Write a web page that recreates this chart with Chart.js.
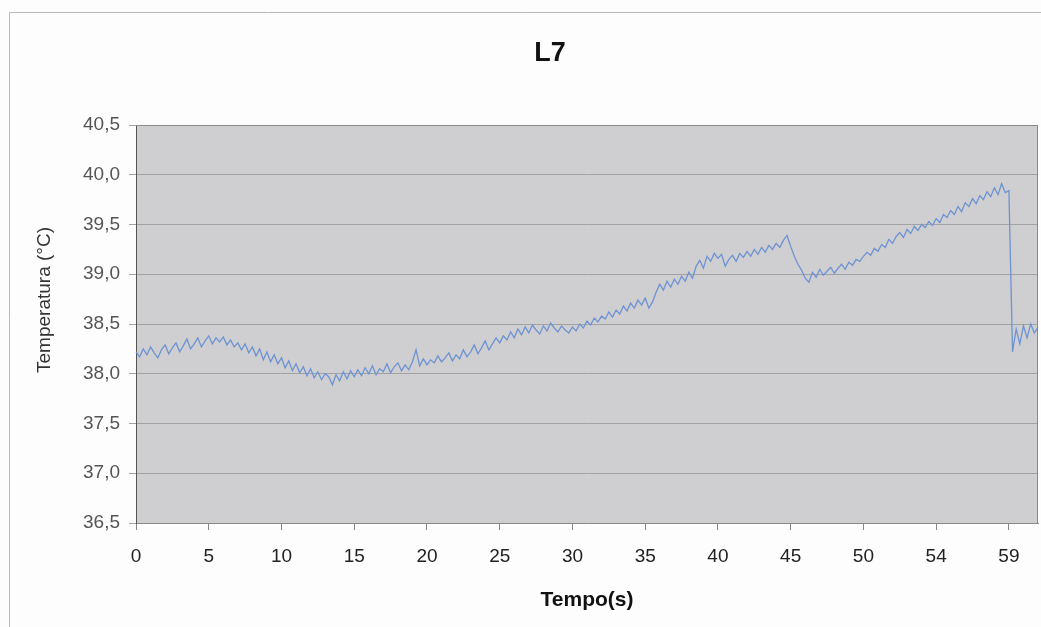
<!DOCTYPE html>
<html>
<head>
<meta charset="utf-8">
<script src="https://cdn.jsdelivr.net/npm/chart.js@4/dist/chart.umd.min.js"></script>
<style>
  html, body { margin: 0; padding: 0; background: #fdfdfd; }
  #wrap { width: 1041px; height: 627px; position: relative; }
</style>
</head>
<body>
<div id="wrap"><canvas id="c" width="1041" height="627"></canvas></div>
<script>
// Tick labels shown along the time axis (one every 20 samples)
const tickLabels = ["0", "5", "10", "15", "20", "25", "30", "35", "40", "45", "50", "54", "59"];
const samplesPerTick = 20;

// Temperature readings (°C), segment by segment
const temp0to5 = [38.22, 38.17, 38.25, 38.19, 38.27, 38.21, 38.16, 38.24, 38.29, 38.20, 38.26, 38.31, 38.22, 38.28, 38.35, 38.25, 38.30, 38.36, 38.27, 38.33];
const temp5to10 = [38.38, 38.30, 38.36, 38.32, 38.37, 38.29, 38.34, 38.27, 38.31, 38.24, 38.30, 38.21, 38.27, 38.18, 38.25, 38.14, 38.22, 38.12, 38.19, 38.10];
const temp10to15 = [38.16, 38.06, 38.13, 38.03, 38.10, 38.01, 38.07, 37.98, 38.05, 37.96, 38.02, 37.94, 38.00, 37.97, 37.89, 37.99, 37.93, 38.02, 37.95, 38.03];
const temp15to20 = [37.97, 38.04, 37.98, 38.06, 38.00, 38.08, 37.99, 38.05, 38.02, 38.10, 38.01, 38.07, 38.11, 38.03, 38.09, 38.04, 38.12, 38.24, 38.08, 38.15];
const temp20to25 = [38.09, 38.14, 38.11, 38.18, 38.12, 38.16, 38.21, 38.13, 38.19, 38.15, 38.24, 38.17, 38.22, 38.29, 38.20, 38.26, 38.33, 38.24, 38.30, 38.36];
const temp25to30 = [38.31, 38.38, 38.34, 38.42, 38.36, 38.45, 38.39, 38.47, 38.41, 38.49, 38.44, 38.40, 38.48, 38.43, 38.51, 38.46, 38.42, 38.48, 38.44, 38.41];
const temp30to35 = [38.47, 38.43, 38.50, 38.46, 38.53, 38.49, 38.56, 38.52, 38.58, 38.55, 38.62, 38.57, 38.64, 38.60, 38.68, 38.63, 38.71, 38.66, 38.74, 38.69];
const temp35to40 = [38.76, 38.66, 38.72, 38.82, 38.90, 38.84, 38.93, 38.87, 38.95, 38.90, 38.98, 38.93, 39.02, 38.96, 39.08, 39.14, 39.06, 39.18, 39.13, 39.21];
const temp40to45 = [39.16, 39.20, 39.08, 39.15, 39.19, 39.13, 39.21, 39.17, 39.23, 39.18, 39.25, 39.20, 39.27, 39.22, 39.29, 39.25, 39.31, 39.27, 39.34, 39.39];
const temp45to50 = [39.28, 39.18, 39.10, 39.04, 38.96, 38.92, 39.02, 38.97, 39.05, 38.99, 39.03, 39.07, 39.01, 39.06, 39.10, 39.05, 39.12, 39.09, 39.15, 39.13];
const temp50to54 = [39.18, 39.22, 39.19, 39.26, 39.23, 39.30, 39.27, 39.35, 39.31, 39.38, 39.42, 39.37, 39.45, 39.41, 39.48, 39.44, 39.50, 39.47, 39.53, 39.49];
const temp54to59 = [39.56, 39.52, 39.60, 39.57, 39.64, 39.60, 39.68, 39.63, 39.72, 39.68, 39.76, 39.71, 39.79, 39.75, 39.83, 39.78, 39.87, 39.80, 39.91, 39.82];
const temp59end = [39.84, 38.22, 38.45, 38.30, 38.48, 38.36, 38.50, 38.41, 38.47];

const temperatures = [].concat(temp0to5, temp5to10, temp10to15, temp15to20, temp20to25, temp25to30,
  temp30to35, temp35to40, temp40to45, temp45to50, temp50to54, temp54to59, temp59end);

const categories = temperatures.map((_, i) => (i % samplesPerTick === 0 && tickLabels[i / samplesPerTick] !== undefined) ? tickLabels[i / samplesPerTick] : '');

const FONT = "'Liberation Sans', Arial, sans-serif";

const decor = {
  id: 'decor',
  beforeDraw(chart) {
    const ctx = chart.ctx, a = chart.chartArea;
    ctx.save();
    ctx.fillStyle = '#fdfdfd';
    ctx.fillRect(0, 0, chart.width, chart.height);
    ctx.strokeStyle = '#b8b8b8';
    ctx.lineWidth = 1;
    ctx.beginPath();
    ctx.moveTo(9.5, 627); ctx.lineTo(9.5, 12.5); ctx.lineTo(1041, 12.5);
    ctx.stroke();
    ctx.fillStyle = '#cfcfd2';
    ctx.fillRect(a.left, a.top, a.right - a.left, a.bottom - a.top);
    ctx.restore();
  },
  afterDraw(chart) {
    const ctx = chart.ctx, a = chart.chartArea;
    ctx.save();
    ctx.strokeStyle = '#8a8a8a';
    ctx.lineWidth = 1;
    ctx.beginPath();
    ctx.moveTo(a.left, a.top + 0.5); ctx.lineTo(a.right - 0.5, a.top + 0.5); ctx.lineTo(a.right - 0.5, a.bottom);
    ctx.stroke();
    ctx.fillStyle = '#111';
    ctx.font = "bold 27px " + FONT;
    ctx.textAlign = 'center';
    ctx.textBaseline = 'middle';
    ctx.fillText('L7', 550, 54);
    ctx.translate(45, 300);
    ctx.rotate(-Math.PI / 2);
    ctx.fillStyle = '#333';
    ctx.font = "19px " + FONT;
    ctx.fillText('Temperatura (°C)', 0, 0);
    ctx.restore();
  }
};

new Chart(document.getElementById('c'), {
  type: 'line',
  data: {
    labels: categories,
    datasets: [{
      data: temperatures,
      borderColor: '#6d93d2',
      borderWidth: 1.3,
      pointRadius: 0,
      tension: 0,
      fill: false
    }]
  },
  options: {
    responsive: false,
    animation: false,
    events: [],
    layout: { padding: { left: 0, right: 3, top: 125, bottom: 14 } },
    plugins: {
      legend: { display: false },
      tooltip: { enabled: false },
      title: { display: false }
    },
    scales: {
      x: {
        type: 'category',
        offset: false,
        afterFit(scale) { scale.height = 627 - 14 - 523; },
        grid: { display: true, drawOnChartArea: false, drawTicks: true, tickLength: 7, color: '#888' },
        border: { display: true, color: '#8a8a8a' },
        ticks: {
          autoSkip: false,
          maxRotation: 0,
          minRotation: 0,
          padding: 15,
          color: '#222',
          font: { family: FONT, size: 19 },
          callback(value) {
            const l = this.getLabelForValue(value);
            return l === '' ? null : l;
          }
        },
        title: {
          display: true,
          text: 'Tempo(s)',
          color: '#111',
          font: { family: FONT, size: 21, weight: 'bold' },
          padding: { top: 6, bottom: 0 }
        }
      },
      y: {
        min: 36.5,
        max: 40.5,
        afterFit(scale) { scale.width = 136; },
        grid: { color: '#a2a2a4', lineWidth: 1, drawTicks: true, tickLength: 7 },
        border: { display: true, color: '#555' },
        ticks: {
          stepSize: 0.5,
          padding: 9,
          color: '#555',
          font: { family: FONT, size: 19 },
          callback: (v) => Number(v).toFixed(1).replace('.', ',')
        }
      }
    }
  },
  plugins: [decor]
});
</script>
</body>
</html>
